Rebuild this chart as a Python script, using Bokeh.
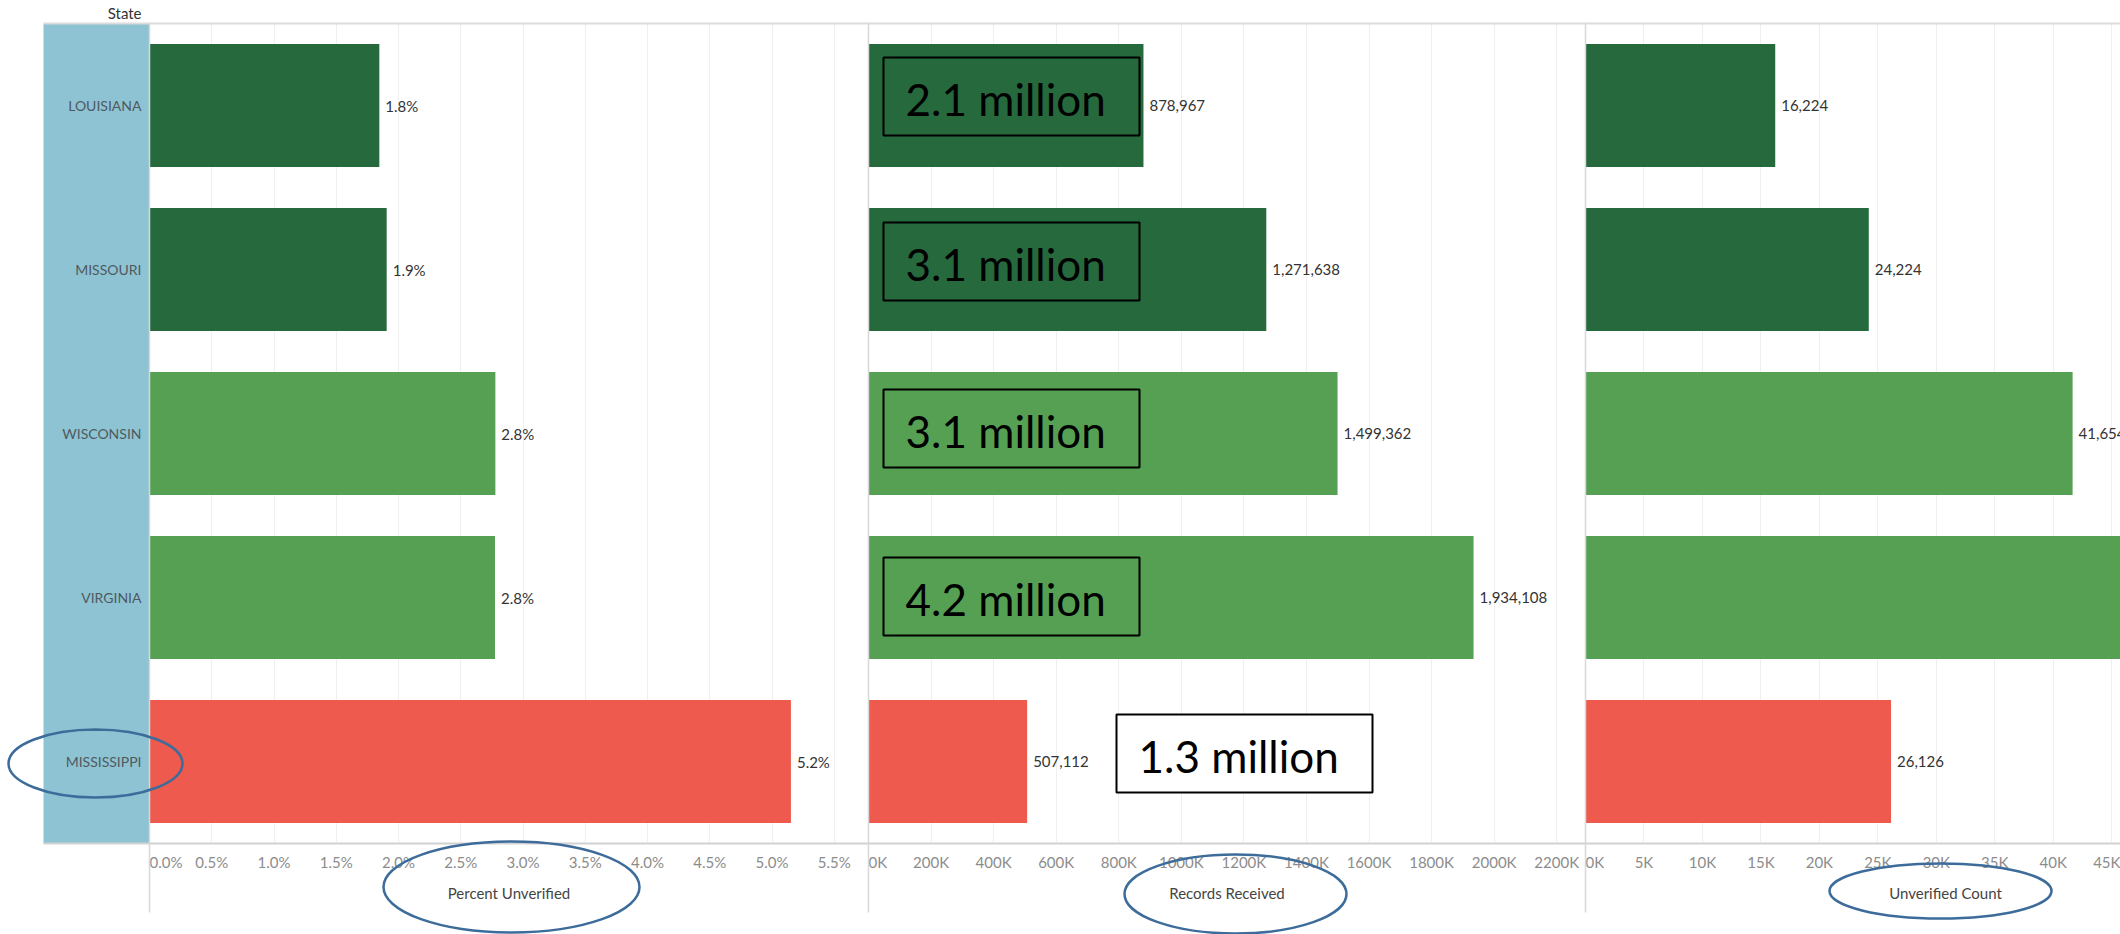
from bokeh.plotting import figure
from bokeh.models import (ColumnDataSource, FactorRange, Range1d, FixedTicker,
                          NumeralTickFormatter, CustomJSTickFormatter, GridBox)
from bokeh.embed import file_html
from bokeh.resources import INLINE
from bokeh.core.properties import value

# ---------------- data ----------------
states = ["LOUISIANA", "MISSOURI", "WISCONSIN", "VIRGINIA", "MISSISSIPPI"]
pct_unverified = [0.01846, 0.01905, 0.02778, 0.02775, 0.05152]
records_received = [878967, 1271638, 1499362, 1934108, 507112]
unverified_count = [16224, 24224, 41654, 53700, 26126]
tier = ["low", "low", "mid", "mid", "high"]
callouts = ["2.1 million", "3.1 million", "3.1 million", "4.2 million", "1.3 million"]

pct_ticks = [0, 0.005, 0.01, 0.015, 0.02, 0.025, 0.03, 0.035, 0.04, 0.045, 0.05, 0.055]
rec_ticks = [0, 200000, 400000, 600000, 800000, 1000000, 1200000, 1400000,
             1600000, 1800000, 2000000, 2200000]
cnt_ticks = [0, 5000, 10000, 15000, 20000, 25000, 30000, 35000, 40000, 45000]
axis_titles = ["Percent Unverified", "Records Received", "Unverified Count"]
header = "State"

# ---------------- styles / layout (pixels) ----------------
palette = {"low": "#25693D", "mid": "#55A052", "high": "#EF5A4E"}
FONT = "Lato"
H, TOP, BOTTOM = 934, 23, 91
W0, W1, W2, W3 = 149, 719, 717, 535
LINE = "#dcdcdc"
ELL = "#3d6c9b"

src = ColumnDataSource(dict(
    state=states, pct=pct_unverified, rec=records_received, cnt=unverified_count,
    color=[palette[t] for t in tier],
    pct_label=[f"{v * 100:.1f}%" for v in pct_unverified],
    rec_label=[f"{v:,}" for v in records_received],
    cnt_label=[f"{v:,}" for v in unverified_count],
))

yr = FactorRange(factors=states[::-1])


def make_fig(width, xr, left=0, axis=True):
    p = figure(width=width, height=H, x_range=xr, y_range=yr, output_backend="svg",
               toolbar_location=None, min_border_left=left, min_border_right=0,
               min_border_top=TOP, min_border_bottom=BOTTOM, title=None,
               y_axis_location=None, x_axis_location="below" if axis else None)
    p.outline_line_color = None
    p.background_fill_color = "white"
    p.border_fill_color = "white"
    p.ygrid.grid_line_color = None
    return p


def style_x(p, ticks, fmt, title):
    ax = p.xaxis[0]
    ax.ticker = FixedTicker(ticks=ticks)
    ax.formatter = fmt
    ax.axis_line_color = None
    ax.major_tick_line_color = None
    ax.minor_tick_line_color = None
    ax.major_tick_out = 0
    ax.major_tick_in = 0
    ax.major_label_standoff = 9
    ax.major_label_text_font = FONT
    ax.major_label_text_font_size = "15px"
    ax.major_label_text_color = "#8c8c8c"
    if title:
        ax.axis_label = title
        ax.axis_label_text_font = FONT
        ax.axis_label_text_font_size = "15px"
        ax.axis_label_text_font_style = "normal"
        ax.axis_label_text_color = "#444444"
        ax.axis_label_standoff = 10
    p.xgrid.ticker = FixedTicker(ticks=ticks)
    p.xgrid.grid_line_color = "#efefef"
    p.xgrid.grid_line_width = 1


def bars(p, x, label):
    p.hbar(y="state", left=0, right=x, height=0.75, fill_color="color",
           line_color=None, source=src)
    p.text(x=x, y="state", text=label, x_offset=6, text_baseline="middle",
           text_align="left", text_font=value(FONT), text_font_size="15px",
           text_color="#333333", source=src)


# ---------------- state header column ----------------
p0 = figure(width=W0, height=H, x_range=Range1d(0, 106), y_range=yr, output_backend="svg",
            toolbar_location=None, min_border_left=43, min_border_right=0,
            min_border_top=TOP, min_border_bottom=BOTTOM, title=None,
            x_axis_location=None, y_axis_location=None)
p0.outline_line_color = None
p0.background_fill_color = "#8EC3D3"
p0.border_fill_color = "white"
p0.grid.visible = False
p0.text(x=98, y="state", text="state", text_align="right", text_baseline="middle",
        text_font=value(FONT), text_font_size="14px", text_color="#4f5a60", source=src)

# ---------------- panel 1 ----------------
p1 = make_fig(W1, Range1d(0, 0.05775))
style_x(p1, pct_ticks, NumeralTickFormatter(format="0.0%"), axis_titles[0])
bars(p1, "pct", "pct_label")

# ---------------- panel 2 ----------------
p2 = make_fig(W2, Range1d(0, 2292000))
style_x(p2, rec_ticks, CustomJSTickFormatter(code="return (tick/1000).toFixed(0) + 'K';"),
        axis_titles[1])
bars(p2, "rec", "rec_label")

# ---------------- panel 3 ----------------
p3 = make_fig(W3, Range1d(0, 45750))
style_x(p3, cnt_ticks, CustomJSTickFormatter(code="return (tick/1000).toFixed(0) + 'K';"),
        None)
bars(p3, "cnt", "cnt_label")

# ---------------- transparent overlay (pixel space) for annotations ----------------
WT = W0 + W1 + W2 + W3
ov = figure(width=WT, height=H, x_range=Range1d(0, WT), y_range=Range1d(H, 0),
            output_backend="svg", toolbar_location=None, title=None,
            x_axis_location=None, y_axis_location=None,
            min_border_left=0, min_border_right=0, min_border_top=0, min_border_bottom=0)
ov.frame_align = False
ov.outline_line_color = None
ov.background_fill_color = None
ov.border_fill_color = None
ov.grid.visible = False

x1 = W0
x2 = W0 + W1
x3 = W0 + W1 + W2
fy = H - BOTTOM
# pane borders
ov.segment(x0=[43, 43], y0=[TOP, fy], x1=[WT, WT], y1=[TOP, fy],
           line_color=[LINE, "#d2d2d2"], line_width=2)
ov.segment(x0=[x1, x2, x3], y0=[TOP] * 3, x1=[x1, x2, x3], y1=[912] * 3,
           line_color="#d8d8d8", line_width=1.5)
# header
ov.text(x=[141], y=[12.5], text=[header], text_align="right", text_baseline="middle",
        text_font=value(FONT), text_font_size="15px", text_color="#333333")
# third axis title (its pane is cropped on the right)
ov.text(x=[1945], y=[892], text=[axis_titles[2]], text_align="center", text_baseline="middle",
        text_font=value(FONT), text_font_size="15px", text_color="#444444")

# callout boxes
box_left = [883, 883, 883, 883, 1116]
box_top = [57, 222, 389, 557, 714]
box_fill_alpha = [0, 0, 0, 0, 1]
ov.quad(left=box_left, right=[l + 256 for l in box_left], top=box_top,
        bottom=[t + 78 for t in box_top], fill_color="white", fill_alpha=box_fill_alpha,
        line_color="black", line_width=2)
ov.text(x=[l + 22 for l in box_left], y=[t + 41 for t in box_top], text=callouts,
        text_align="left", text_baseline="middle", text_font=value(FONT),
        text_font_size="44px", text_color="black")

# highlight ellipses
ov.ellipse(x=[95, 511, 1235, 1940], y=[763, 886.5, 893.5, 890.5],
           width=[174, 256, 222, 222], height=[68, 91, 79, 55],
           width_units="screen", height_units="screen",
           fill_color=None, line_color=ELL, line_width=2.5)

layout = GridBox(children=[(p0, 0, 0), (p1, 0, 1), (p2, 0, 2), (p3, 0, 3),
                           (ov, 0, 0, 1, 4)], spacing=0)
open("out.html", "w").write(file_html(layout, INLINE))
